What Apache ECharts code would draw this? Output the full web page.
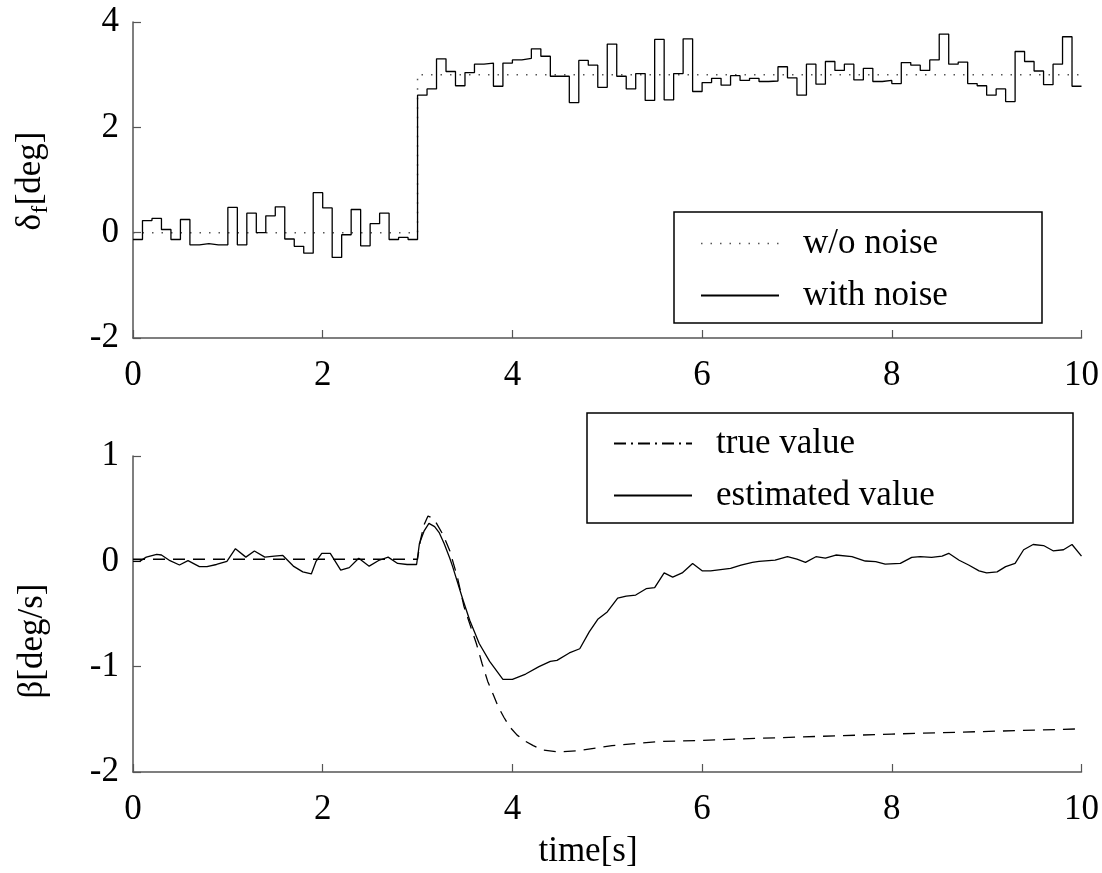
<!DOCTYPE html>
<html><head><meta charset="utf-8">
<script src="https://cdn.jsdelivr.net/npm/echarts@6/dist/echarts.min.js"></script>
<style>html,body{margin:0;padding:0;background:#fff}#c{width:1102px;height:873px}</style>
</head><body><div id="c"></div>
<script>
const FONT = 'Liberation Serif';

// ---- data ----
const timeTicks = [0, 2, 4, 6, 8, 10];
const deltaTicks = [-2, 0, 2, 4];
const betaTicks = [-2, -1, 0, 1];

// steering angle without noise (step at t = 3 s)
const cleanTime = [0, 3, 3, 10];
const cleanValue = [0, 0, 3, 3];

// steering angle with noise, held for 0.1 s per sample, starting at t = 0
const noiseSamplePeriod = 0.1;
const noisyValue = [
  -0.13, 0.23, 0.27, 0.06, -0.13, 0.25, -0.23, -0.21, -0.23, -0.23,
  0.48, -0.23, 0.37, 0.00, 0.32, 0.49, -0.12, -0.26, -0.39, 0.76,
  0.47, -0.47, -0.04, 0.44, -0.25, 0.17, 0.37, -0.13, -0.09, -0.13,
  2.61, 2.73, 3.30, 3.06, 2.79, 3.04, 3.20, 3.22, 2.78, 3.22,
  3.28, 3.31, 3.49, 3.35, 2.97, 2.97, 2.47, 3.27, 3.18, 2.76,
  3.58, 2.97, 2.73, 3.02, 2.51, 3.67, 2.52, 3.02, 3.68, 2.68,
  2.85, 2.93, 2.80, 2.98, 2.89, 2.93, 2.87, 2.88, 3.15, 2.94,
  2.61, 3.20, 2.82, 3.25, 3.08, 3.20, 2.90, 3.12, 2.87, 2.89,
  2.83, 3.23, 3.18, 3.08, 3.28, 3.77, 3.20, 3.24, 2.83, 2.79,
  2.61, 2.73, 2.49, 3.44, 3.25, 3.07, 2.81, 3.20, 3.72, 2.78
];

// sideslip: true value
const trueTime = [0, 3.0, 3.03, 3.07, 3.11, 3.16, 3.20, 3.27, 3.34, 3.42, 3.49, 3.56, 3.62, 3.68, 3.74, 3.80, 3.85, 3.91, 3.97, 4.05, 4.14, 4.22, 4.32, 4.49, 4.67, 5.05, 5.55, 6.0, 6.6, 8.0, 10.0];
const trueValue = [0.02, 0.02, 0.20, 0.35, 0.43, 0.41, 0.36, 0.25, 0.10, -0.15, -0.43, -0.62, -0.78, -0.97, -1.14, -1.27, -1.38, -1.48, -1.57, -1.65, -1.71, -1.75, -1.79, -1.81, -1.80, -1.75, -1.71, -1.70, -1.68, -1.64, -1.59];

// sideslip: estimated value
const estTime = [0, 0.07, 0.14, 0.25, 0.30, 0.39, 0.49, 0.58, 0.70, 0.78, 0.88, 0.99, 1.08, 1.19, 1.28, 1.39, 1.49, 1.58, 1.69, 1.79, 1.88, 1.93, 1.99, 2.08, 2.19, 2.28, 2.38, 2.49, 2.59, 2.69, 2.79, 2.89, 2.99, 3.02, 3.07, 3.12, 3.18, 3.23, 3.28, 3.34, 3.37, 3.48, 3.55, 3.65, 3.76, 3.90, 4.00, 4.14, 4.28, 4.40, 4.47, 4.60, 4.71, 4.81, 4.90, 5.00, 5.11, 5.20, 5.30, 5.41, 5.50, 5.60, 5.69, 5.79, 5.90, 6.00, 6.09, 6.30, 6.41, 6.53, 6.60, 6.77, 6.90, 7.00, 7.09, 7.20, 7.30, 7.41, 7.58, 7.72, 7.83, 7.93, 8.09, 8.21, 8.30, 8.42, 8.53, 8.60, 8.71, 8.81, 8.92, 9.00, 9.11, 9.20, 9.30, 9.39, 9.49, 9.60, 9.70, 9.81, 9.90, 10.0];
const estValue = [0.0, 0.0, 0.04, 0.066, 0.06, 0.006, -0.035, 0.006, -0.05, -0.05, -0.03, 0.0, 0.12, 0.04, 0.098, 0.04, 0.05, 0.056, -0.045, -0.10, -0.12, 0.0, 0.076, 0.076, -0.083, -0.06, 0.03, -0.046, 0.008, 0.04, -0.02, -0.03, -0.03, 0.17, 0.29, 0.36, 0.33, 0.27, 0.17, 0.03, -0.05, -0.37, -0.56, -0.78, -0.95, -1.12, -1.12, -1.07, -1.00, -0.95, -0.94, -0.87, -0.83, -0.67, -0.55, -0.48, -0.35, -0.33, -0.32, -0.26, -0.25, -0.11, -0.15, -0.11, -0.02, -0.09, -0.09, -0.067, -0.035, -0.01, 0.0, 0.012, 0.044, 0.02, -0.01, 0.044, 0.03, 0.06, 0.044, 0.003, -0.003, -0.027, -0.02, 0.037, 0.044, 0.037, 0.05, 0.076, 0.01, -0.035, -0.09, -0.11, -0.10, -0.05, -0.02, 0.11, 0.16, 0.15, 0.10, 0.11, 0.16, 0.05];

// ---- build ----
const zip = (xs, ys) => xs.map((x, i) => [x, ys[i]]);
const noisyData = noisyValue.map((v, i) => [+(i * noiseSamplePeriod).toFixed(2), v]);
noisyData.push([timeTicks[timeTicks.length - 1], noisyValue[noisyValue.length - 1]]);

const FS = 35, SUB_FS = 23;
const AXIS_COLOR = '#555';
function xAxisCfg(gi) {
  return {
    type: 'value', gridIndex: gi,
    min: timeTicks[0], max: timeTicks[timeTicks.length - 1], interval: timeTicks[1] - timeTicks[0],
    axisLine: { show: true, onZero: false, lineStyle: { color: AXIS_COLOR, width: 1.5 } },
    axisTick: { show: true, inside: true, length: 8, lineStyle: { color: AXIS_COLOR, width: 1.2 } },
    axisLabel: { color: '#000', fontFamily: FONT, fontSize: FS, margin: 20 },
    splitLine: { show: false }
  };
}
function yAxisCfg(gi, ticks) {
  return {
    type: 'value', gridIndex: gi,
    min: ticks[0], max: ticks[ticks.length - 1], interval: ticks[1] - ticks[0],
    axisLine: { show: true, onZero: false, lineStyle: { color: AXIS_COLOR, width: 1.5 } },
    axisTick: { show: true, inside: true, length: 8, lineStyle: { color: AXIS_COLOR, width: 1.2 } },
    axisLabel: { color: '#000', fontFamily: FONT, fontSize: FS, margin: 14 },
    splitLine: { show: false }
  };
}
const legendText = { fontFamily: FONT, fontSize: FS, color: '#000', lineHeight: 34, padding: [0, 0, 0, 19] };
const noMarker = { color: 'rgba(0,0,0,0)', borderWidth: 0 };

// measure text pieces for the subscripted y-axis title
const mctx = document.createElement('canvas').getContext('2d');
function tw(t, fs) { mctx.font = fs + 'px "' + FONT + '"'; return mctx.measureText(t).width; }
const w1 = tw('δ', FS), w2 = tw('f', SUB_FS), w3 = tw('[deg]', FS);
const totalW = w1 + w2 + w3 + 1;
const mainFont = FS + 'px "' + FONT + '"';
const subFont = SUB_FS + 'px "' + FONT + '"';

const chart = echarts.init(document.getElementById('c'), null, { renderer: 'canvas' });
chart.setOption({
  animation: false,
  backgroundColor: '#fff',
  grid: [
    { left: 133, top: 22, width: 950, height: 316 },
    { left: 133, top: 456, width: 950, height: 316 }
  ],
  xAxis: [xAxisCfg(0), xAxisCfg(1)],
  yAxis: [yAxisCfg(0, deltaTicks), yAxisCfg(1, betaTicks)],
  legend: [
    {
      orient: 'vertical', left: 700, top: 226, padding: 0,
      itemWidth: 78, itemHeight: 14, itemGap: 17, selectedMode: false,
      textStyle: legendText, itemStyle: { opacity: 0 },
      data: [
        { name: 'w/o noise', lineStyle: { type: [1.5, 8], color: '#555', width: 1.5 } },
        { name: 'with noise' }
      ]
    },
    {
      orient: 'vertical', left: 613, top: 426, padding: 0,
      itemWidth: 78, itemHeight: 14, itemGap: 17, selectedMode: false,
      textStyle: legendText, itemStyle: { opacity: 0 },
      data: [
        { name: 'true value', lineStyle: { type: [12, 5, 2, 5] } },
        { name: 'estimated value' }
      ]
    }
  ],
  graphic: [
    { type: 'rect', shape: { x: 674, y: 212, width: 368, height: 111 }, style: { fill: 'rgba(0,0,0,0)', stroke: '#000', lineWidth: 1.5 }, silent: true },
    { type: 'rect', shape: { x: 587, y: 413, width: 486, height: 110 }, style: { fill: 'rgba(0,0,0,0)', stroke: '#000', lineWidth: 1.5 }, silent: true },
    {
      type: 'group', x: 31, y: 181 + totalW / 2, rotation: Math.PI / 2, silent: true,
      children: [
        { type: 'text', x: 0, y: 0, style: { text: 'δ', font: mainFont, fill: '#000', align: 'left', verticalAlign: 'middle' } },
        { type: 'text', x: w1 + 0.5, y: 10, style: { text: 'f', font: subFont, fill: '#000', align: 'left', verticalAlign: 'middle' } },
        { type: 'text', x: w1 + w2 + 1, y: 0, style: { text: '[deg]', font: mainFont, fill: '#000', align: 'left', verticalAlign: 'middle' } }
      ]
    },
    {
      type: 'text', x: 33, y: 641, rotation: Math.PI / 2, silent: true,
      style: { text: 'β[deg/s]', font: mainFont, fill: '#000', align: 'center', verticalAlign: 'middle' }
    },
    {
      type: 'text', x: 588, y: 852, silent: true,
      style: { text: 'time[s]', font: mainFont, fill: '#000', align: 'center', verticalAlign: 'middle' }
    }
  ],
  series: [
    {
      name: 'w/o noise', type: 'line', xAxisIndex: 0, yAxisIndex: 0, symbol: 'none',
      data: zip(cleanTime, cleanValue), itemStyle: noMarker,
      lineStyle: { color: '#555', width: 1.5, type: [1.5, 8] }, z: 2
    },
    {
      name: 'with noise', type: 'line', xAxisIndex: 0, yAxisIndex: 0, symbol: 'none', step: 'end',
      data: noisyData, itemStyle: noMarker,
      lineStyle: { color: '#000', width: 1.3 }, z: 3
    },
    {
      name: 'true value', type: 'line', xAxisIndex: 1, yAxisIndex: 1, symbol: 'none',
      data: zip(trueTime, trueValue), itemStyle: noMarker,
      lineStyle: { color: '#000', width: 1.3, type: [12, 8] }, z: 2
    },
    {
      name: 'estimated value', type: 'line', xAxisIndex: 1, yAxisIndex: 1, symbol: 'none',
      data: zip(estTime, estValue), itemStyle: noMarker,
      lineStyle: { color: '#000', width: 1.3 }, z: 3
    }
  ]
});
</script></body></html>
